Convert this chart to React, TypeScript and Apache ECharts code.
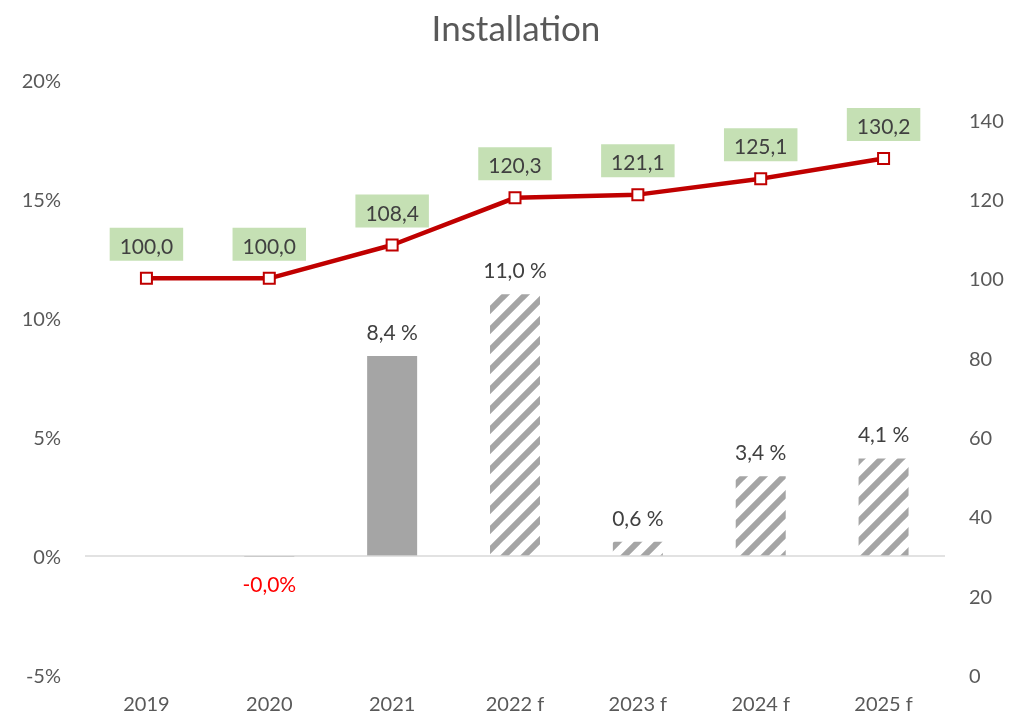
import React, { useEffect, useRef } from "react";
import * as echarts from "echarts";

const categories = ["2019", "2020", "2021", "2022 f", "2023 f", "2024 f", "2025 f"];
const growthPct: (number | null)[] = [null, -0.04, 8.4, 11.0, 0.6, 3.35, 4.1];
const indexValues = [100.0, 100.0, 108.4, 120.3, 121.1, 125.1, 130.2];
const forecastFrom = 3;

const FONT = "Lato";
const TEXT = "#595959";

function makeStripes(): HTMLCanvasElement {
  const c = document.createElement("canvas");
  const s = 20;
  c.width = s;
  c.height = s;
  const ctx = c.getContext("2d")!;
  ctx.fillStyle = "#ffffff";
  ctx.fillRect(0, 0, s, s);
  ctx.strokeStyle = "#a5a5a5";
  ctx.lineWidth = 6;
  for (const k of [0, s, 2 * s]) {
    ctx.beginPath();
    ctx.moveTo(-2, k + 2);
    ctx.lineTo(k + 2, -2);
    ctx.stroke();
  }
  return c;
}

const fmt = (v: number) => v.toFixed(1).replace(".", ",");

export default function App() {
  const ref = useRef<HTMLDivElement>(null);
  useEffect(() => {
    if (!ref.current) return;
    const chart = echarts.init(ref.current, null, { renderer: "svg" });
    const stripes = makeStripes();
    const barData = growthPct.map((v, i) => {
      if (v === null) return { value: null };
      const neg = v < 0;
      return {
        value: v,
        itemStyle: {
          color: i >= forecastFrom ? { image: stripes, repeat: "repeat" } : "#a5a5a5",
        },
        label: {
          show: true,
          position: neg ? "bottom" : "top",
          distance: neg ? 16 : 14,
          color: neg ? "#ff0000" : "#404040",
          formatter: neg ? fmt(v) + "%" : fmt(v) + " %",
        },
      };
    });
    chart.setOption({
      animation: false,
      textStyle: { fontFamily: FONT },
      title: {
        text: "Installation",
        left: 511,
        textAlign: "center",
        top: 4,
        textStyle: { fontFamily: FONT, fontSize: 35, fontWeight: "normal", color: TEXT },
      },
      grid: { left: 85, right: 64, top: 80, bottom: 40 },
      xAxis: {
        type: "category",
        data: categories,
        axisLine: { show: false, onZero: false },
        axisTick: { show: false },
        axisLabel: { color: TEXT, fontSize: 20, lineHeight: 16, fontFamily: FONT, margin: 20 },
      },
      yAxis: [
        {
          type: "value",
          min: -5,
          max: 20,
          interval: 5,
          splitLine: { show: false },
          axisLine: { show: false },
          axisTick: { show: false },
          axisLabel: { color: TEXT, fontSize: 20, fontFamily: FONT, margin: 24, formatter: "{value}%" },
        },
        {
          type: "value",
          min: 0,
          max: 150,
          interval: 20,
          splitLine: { show: false },
          axisLine: { show: false },
          axisTick: { show: false },
          axisLabel: { color: TEXT, fontSize: 20, fontFamily: FONT, margin: 24, showMaxLabel: false },
        },
      ],
      series: [
        {
          type: "bar",
          yAxisIndex: 0,
          barWidth: 50,
          data: barData,
          label: { fontSize: 21, fontFamily: FONT },
          markLine: {
            silent: true,
            symbol: "none",
            label: { show: false },
            lineStyle: { color: "#d9d9d9", width: 1.5, type: "solid" },
            data: [{ yAxis: 0 }],
          },
        },
        {
          type: "line",
          yAxisIndex: 1,
          data: indexValues,
          symbol: "rect",
          symbolSize: 11,
          lineStyle: { color: "#c00000", width: 4.5 },
          itemStyle: { color: "#ffffff", borderColor: "#c00000", borderWidth: 2 },
          label: {
            show: true,
            position: "top",
            distance: 11,
            color: "#404040",
            fontSize: 21,
            fontFamily: FONT,
            backgroundColor: "#c5e0b4",
            padding: [7, 10, 5, 10],
            formatter: (p: any) => fmt(p.value),
          },
          z: 5,
        },
      ],
    });
    return () => chart.dispose();
  }, []);
  return (
    <div
      ref={ref}
      style={{ position: "fixed", left: 0, top: 0, width: 1009, height: 715, overflow: "hidden" }}
    />
  );
}
